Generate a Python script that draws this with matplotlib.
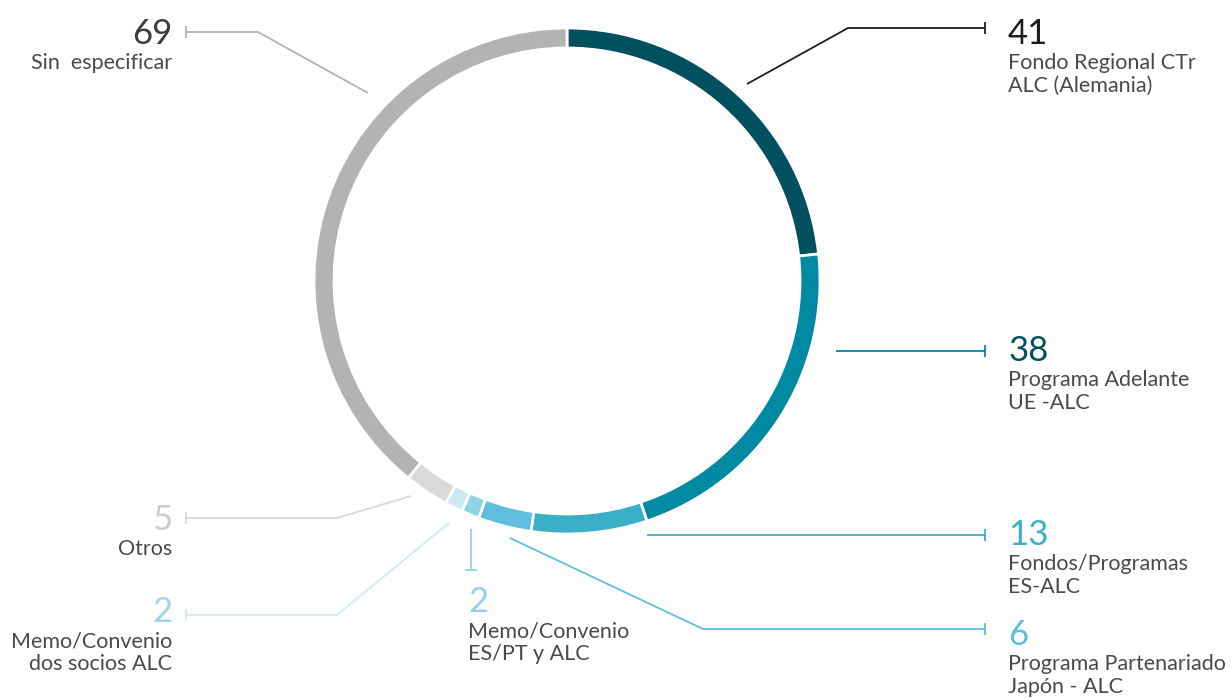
import matplotlib
matplotlib.use("Agg")
from matplotlib import pyplot as plt

plt.rcParams['font.family'] = ['Lato', 'DejaVu Sans']

# data (clockwise from top)
labels = ["Fondo Regional CTr\nALC (Alemania)", "Programa Adelante\nUE -ALC",
          "Fondos/Programas\nES-ALC", "Programa Partenariado\nJapón - ALC",
          "Memo/Convenio\nES/PT y ALC", "Memo/Convenio\ndos socios ALC",
          "Otros", "Sin  especificar"]
values = [41, 38, 13, 6, 2, 2, 5, 69]
colors = ["#00505F", "#0089A3", "#3AAFC8", "#5FBDDD", "#8FD3E8", "#CDEAF3",
          "#D9D9D9", "#B3B3B3"]
num_colors = ["#1E1E1E", "#00505F", "#3AAFC8", "#5FBDDD", "#8FD3E8", "#9ED6E8",
              "#C8CCD2", "#3C3C3C"]
line_colors = ["#1E1E1E", "#0089A3", "#3AAFC8", "#5FBDDD", "#8FD3E8", "#CDEAF3",
               "#D9D9D9", "#B3B3B3"]

# label layout in pixels: leader path, text anchor x, number baseline y, alignment
leaders = [
    [(747, 84), (848, 28), (985, 28)],
    [(836, 351), (985, 351)],
    [(647, 535), (985, 535)],
    [(510, 538), (703, 629), (985, 629)],
    [(471, 529), (471, 570)],
    [(449, 523), (337, 615), (186, 615)],
    [(411, 496), (337, 518), (186, 518)],
    [(368, 93), (258, 32), (186, 32)],
]
text_pos = [(1008, 44, 'left'), (1008, 361, 'left'), (1008, 545, 'left'),
            (1008, 645, 'left'), (468, 612, 'left'), (172, 622, 'right'),
            (172, 530, 'right'), (172, 44, 'right')]

fig = plt.figure(figsize=(12.32, 6.99), dpi=100)
ax = fig.add_axes([0, 0, 1, 1])

ax.pie(values, colors=colors, center=(567, 281), radius=253,
       startangle=-90, counterclock=True, frame=True,
       wedgeprops=dict(width=20, edgecolor='white', linewidth=2))
ax.set_xlim(0, 1232)
ax.set_ylim(699, 0)
ax.set_aspect('equal')
ax.axis('off')

for i in range(len(values)):
    pts = leaders[i]
    xs = [p[0] for p in pts]
    ys = [p[1] for p in pts]
    ax.plot(xs, ys, color=line_colors[i], lw=1.3, solid_capstyle='butt')
    vertical = xs[-1] == xs[-2]
    ax.plot(xs[-1], ys[-1], marker='_' if vertical else '|', color=line_colors[i],
            markersize=8, mew=1.3)
    x, y, ha = text_pos[i]
    ax.text(x, y, str(values[i]), fontsize=25, color=num_colors[i], ha=ha,
            va='baseline')
    ax.text(x, y + 9, labels[i], fontsize=15.5, color="#4A4A4A", ha=ha,
            va='top', linespacing=1.17, multialignment=ha)

fig.savefig("out.png", dpi=100)
